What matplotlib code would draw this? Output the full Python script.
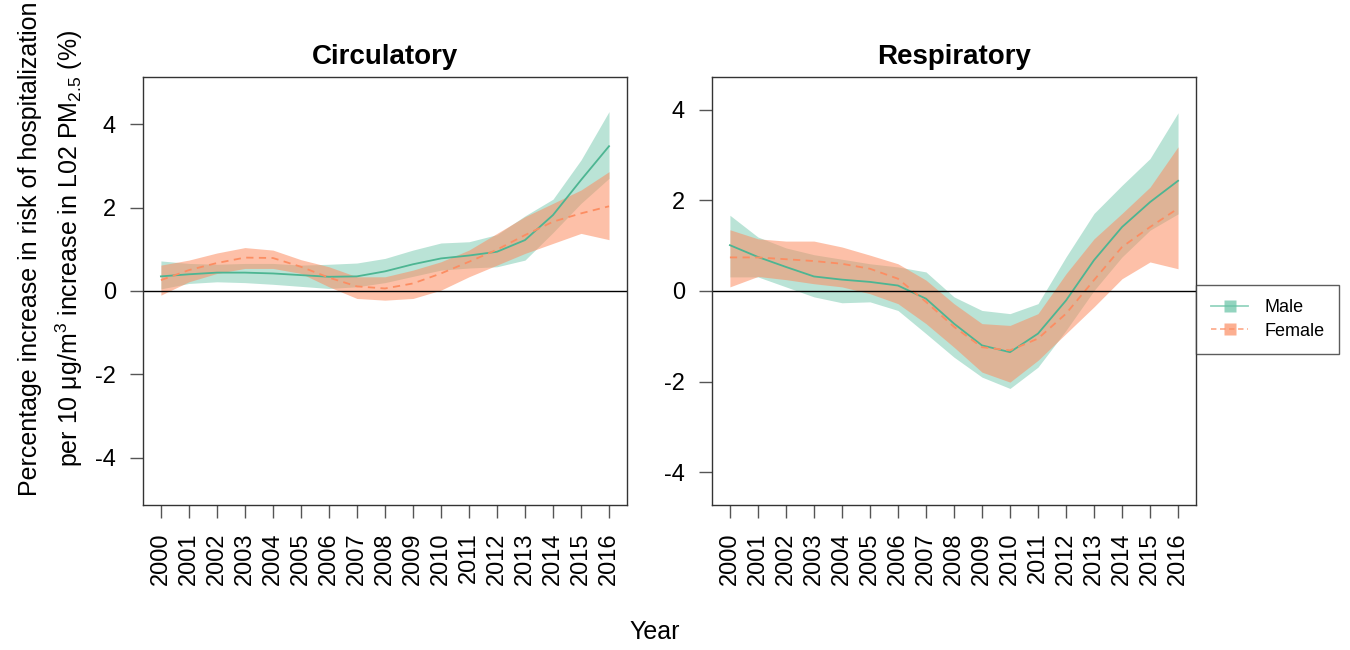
import numpy as np
import matplotlib
matplotlib.use("Agg")
import matplotlib.pyplot as plt
from matplotlib.lines import Line2D

plt.rcParams['font.family'] = ['Liberation Sans', 'DejaVu Sans']
plt.rcParams['axes.unicode_minus'] = False

years = list(range(2000, 2017))

# Circulatory
circ_male = [0.35, 0.40, 0.44, 0.44, 0.42, 0.38, 0.34, 0.35, 0.47, 0.64, 0.78, 0.85, 0.94, 1.22, 1.82, 2.66, 3.47]
circ_male_lo = [0.05, 0.18, 0.22, 0.20, 0.16, 0.11, 0.06, 0.10, 0.20, 0.35, 0.50, 0.55, 0.58, 0.74, 1.40, 2.10, 2.70]
circ_male_hi = [0.72, 0.66, 0.64, 0.66, 0.66, 0.62, 0.64, 0.67, 0.78, 0.98, 1.15, 1.18, 1.35, 1.80, 2.20, 3.14, 4.30]
circ_fem = [0.26, 0.50, 0.67, 0.80, 0.79, 0.58, 0.32, 0.11, 0.06, 0.18, 0.42, 0.70, 0.99, 1.34, 1.66, 1.86, 2.03]
circ_fem_lo = [-0.10, 0.22, 0.42, 0.54, 0.54, 0.42, 0.10, -0.18, -0.22, -0.18, 0.02, 0.34, 0.62, 0.90, 1.14, 1.38, 1.23]
circ_fem_hi = [0.62, 0.74, 0.91, 1.04, 0.98, 0.75, 0.58, 0.34, 0.34, 0.50, 0.70, 0.98, 1.38, 1.78, 2.10, 2.42, 2.86]

# Respiratory
resp_male = [1.01, 0.75, 0.53, 0.32, 0.25, 0.20, 0.12, -0.17, -0.72, -1.20, -1.35, -0.94, -0.21, 0.68, 1.41, 1.96, 2.43]
resp_male_lo = [0.31, 0.31, 0.09, -0.13, -0.26, -0.24, -0.43, -0.94, -1.46, -1.90, -2.15, -1.68, -0.87, 0.01, 0.75, 1.34, 1.70]
resp_male_hi = [1.67, 1.19, 0.95, 0.80, 0.70, 0.60, 0.53, 0.42, -0.13, -0.43, -0.50, -0.28, 0.75, 1.71, 2.33, 2.92, 3.93]
resp_fem = [0.74, 0.74, 0.70, 0.66, 0.60, 0.49, 0.27, -0.24, -0.79, -1.24, -1.31, -1.05, -0.50, 0.24, 0.97, 1.41, 1.82]
resp_fem_lo = [0.09, 0.32, 0.25, 0.16, 0.09, -0.06, -0.28, -0.72, -1.24, -1.79, -2.01, -1.53, -0.94, -0.35, 0.27, 0.64, 0.49]
resp_fem_hi = [1.35, 1.15, 1.10, 1.10, 0.97, 0.79, 0.60, 0.24, -0.28, -0.72, -0.76, -0.50, 0.38, 1.15, 1.71, 2.29, 3.18]

teal = '#66C2A5'
salmon = '#FC8D62'

fig = plt.figure(figsize=(13.5, 6.5), dpi=100)
ax1 = fig.add_axes([0.1059, 0.2231, 0.3585, 0.6585])
ax2 = fig.add_axes([0.5274, 0.2231, 0.3585, 0.6585])

panels = [
    (ax1, 'Circulatory', circ_male, circ_male_lo, circ_male_hi, circ_fem, circ_fem_lo, circ_fem_hi, 5.13),
    (ax2, 'Respiratory', resp_male, resp_male_lo, resp_male_hi, resp_fem, resp_fem_lo, resp_fem_hi, 4.72),
]

for ax, title, m, mlo, mhi, f, flo, fhi, lim in panels:
    ax.fill_between(years, mlo, mhi, color=teal, alpha=0.45, lw=0)
    ax.fill_between(years, flo, fhi, color=salmon, alpha=0.55, lw=0)
    ax.plot(years, m, color='#4db592', lw=1.3)
    ax.plot(years, f, color=salmon, lw=1.3, ls=(0, (4, 3)))
    ax.axhline(0, color='black', lw=1)
    ax.set_xlim(1999.36, 2016.64)
    ax.set_ylim(-lim, lim)
    ax.set_xticks(years)
    ax.set_xticklabels([str(y) for y in years], rotation=90)
    ax.set_yticks([-4, -2, 0, 2, 4])
    ax.tick_params(axis='both', labelsize=17, length=9.5, width=1, color='#555555', pad=10)
    for s in ax.spines.values():
        s.set_color('#333333')
        s.set_linewidth(1)
    ax.set_title(title, fontsize=20, fontweight='bold', pad=9)

fig.text(0.022, 0.618, 'Percentage increase in risk of hospitalization',
         rotation=90, ha='center', va='center', fontsize=18)
fig.text(0.051, 0.618, r'per 10 $\mathregular{\mu g/m^3}$ increase in L02 $\mathregular{PM_{2.5}}$ (%)',
         rotation=90, ha='center', va='center', fontsize=18)
fig.text(0.485, 0.027, 'Year', ha='center', va='center', fontsize=18)

handles = [
    Line2D([], [], color=teal, lw=1.3, marker='s', markersize=8,
           markerfacecolor=teal, markeredgecolor='none', alpha=0.7),
    Line2D([], [], color=salmon, lw=1.3, ls=(0, (3, 2)), marker='s', markersize=8,
           markerfacecolor=salmon, markeredgecolor='none', alpha=0.7),
]
leg = fig.legend(handles, ['Male', 'Female'], loc='upper left',
                 bbox_to_anchor=(0.886, 0.5615), fontsize=13, frameon=True,
                 fancybox=False, edgecolor='#333333', handlelength=2.1,
                 borderpad=0.8, labelspacing=0.35, handletextpad=0.9, borderaxespad=0)
leg.get_frame().set_linewidth(1)

fig.savefig('out.png', dpi=100)
